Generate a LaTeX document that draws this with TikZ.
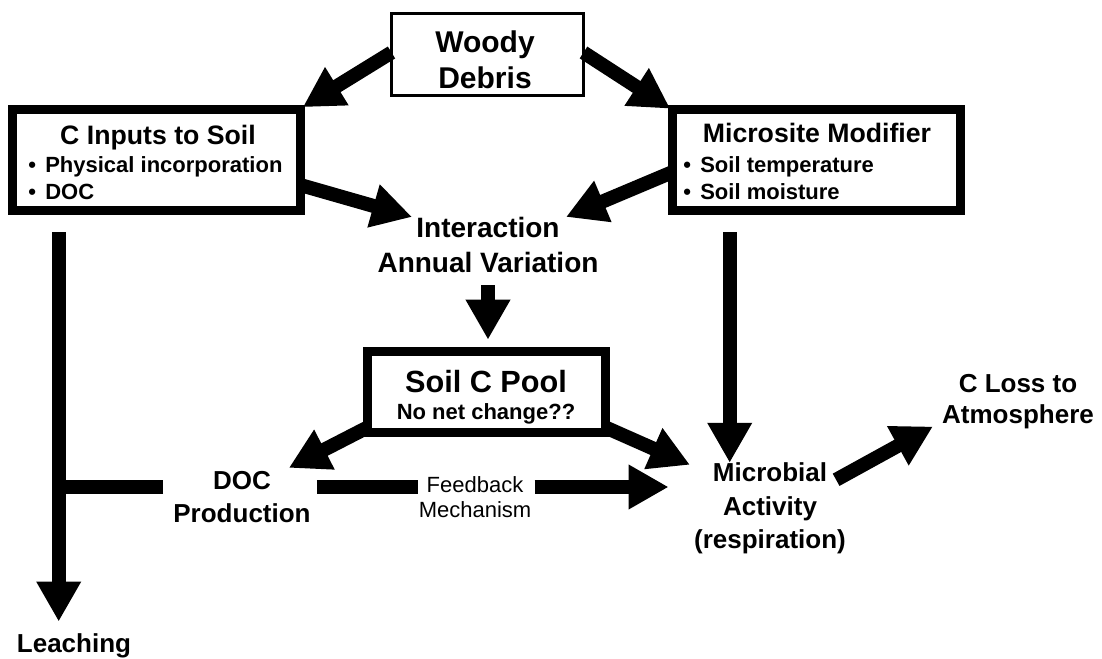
\documentclass[tikz,border=0pt]{standalone}
\usepackage{fontspec}
\setmainfont{Liberation Sans}
\usetikzlibrary{arrows.meta,calc}

\begin{document}
\begin{tikzpicture}[x=0.75pt,y=-0.75pt,line join=miter]
  \tikzset{
    thinbox/.style={draw,line width=2.25pt,outer sep=0pt},
    thickbox/.style={draw,line width=7pt,outer sep=0pt},
    lbl/.style={inner sep=0pt,align=center,font=\bfseries\fontsize{19.5}{25}\selectfont},
    items/.style={inner sep=0pt,align=left,anchor=west,font=\bfseries\fontsize{16.5}{20.25}\selectfont},
    fat/.style={line width=10.5pt},
    fatarrow/.style={fat,-{Triangle[length=30pt,width=31.5pt]}}
  }
  \useasboundingbox (0,0) rectangle (1102,659);

  % Boxes along the top.
  \node[thinbox,minimum width=144pt,minimum height=61.5pt] (woody) at (487.5,54.5) {};
  \node[lbl,font=\bfseries\fontsize{22.5}{27}\selectfont] (woodyT) at (485,60) {Woody\\Debris};

  \node[thickbox,minimum width=215.7pt,minimum height=75.5pt] (inputs) at (156.5,160) {};
  \node[lbl,font=\bfseries\fontsize{20}{24}\selectfont] (inputsT) at (158,138) {C Inputs to Soil};
  \node[items] (inputsL) at (28,178.5) {\textbullet\hspace{7pt}Physical incorporation\\\textbullet\hspace{7pt}DOC};

  \node[thickbox,minimum width=215.7pt,minimum height=75.5pt] (micro) at (816.5,160) {};
  \node[lbl,font=\bfseries\fontsize{20}{24}\selectfont] (microT) at (817,133) {Microsite Modifier};
  \node[items] (microL) at (683,178.5) {\textbullet\hspace{7pt}Soil temperature\\\textbullet\hspace{7pt}Soil moisture};

  % Middle and bottom.
  \node[lbl,font=\bfseries\fontsize{21}{26.25}\selectfont] (inter) at (488,245) {Interaction\\Annual Variation};

  \node[thickbox,minimum width=178.2pt,minimum height=60.5pt] (pool) at (486.5,392) {};
  \node[lbl,font=\bfseries\fontsize{23}{27}\selectfont] (poolT) at (486,382) {Soil C Pool};
  \node[lbl,font=\bfseries\fontsize{16.5}{20}\selectfont] (poolN) at (486,414) {No net change??};

  \node[lbl] (doc) at (242,497) {DOC\\Production};
  \node[lbl,font=\fontsize{16.5}{18.75}\selectfont] (fb) at (475,497.5) {Feedback\\Mechanism};
  \node[lbl] (mic) at (770,508.5) {Microbial\\Activity\\(respiration)};
  \node[lbl,font=\bfseries\fontsize{19.5}{23.25}\selectfont] (closs) at (1018,402) {C Loss to\\Atmosphere};
  \node[lbl] (leach) at (74,646) {Leaching};

  % Connectors.
  \draw[fatarrow] ($(woody.west)+(0,-2)$) -- ($(inputs.north east)+(2.5,-2.5)$);
  \draw[fatarrow] ($(woody.east)+(0,-2)$) -- ($(micro.north west)+(-2.5,-1)$);
  \draw[fatarrow] ($(inputs.east)+(0,25)$) -- ($(inter.north)+(-76,0)$);
  \draw[fatarrow] ($(micro.west)+(0,12)$) -- ($(inter.north)+(78,0)$);
  \draw[fatarrow,shorten <=9pt,shorten >=9pt] (inter.south) -- (inter.south |- pool.north);

  \draw[fatarrow,shorten >=9pt] ($(inputs.south west)+(46,22)$) coordinate (drop) -- (drop |- leach.north);
  \draw[fat] ($(doc.west)+(-10,-10)$) coordinate (branch) -- (branch -| drop);
  \draw[fat] ($(doc.east)+(6,-10)$) coordinate (fbl) -- (fbl -| fb.west);
  \draw[fatarrow,shorten >=19pt] ($(fb.east |- fbl)+(3,0)$) -- (fbl -| mic.west);

  \draw[fatarrow] ($(pool.south west)+(0,-5)$) -- ($(doc.north east)+(-22,-3)$);
  \draw[fatarrow] ($(pool.south east)+(0,-5)$) -- ($(mic.north west)+(-4,2)$);
  \draw[fatarrow] ($(micro.south west)+(57,22)$) coordinate (mdrop) -- (mdrop |- mic.north);
  \draw[fatarrow] ($(mic.north east)+(-10,17)$) -- ($(closs.south west)+(-9,-3)$);
\end{tikzpicture}
\end{document}
